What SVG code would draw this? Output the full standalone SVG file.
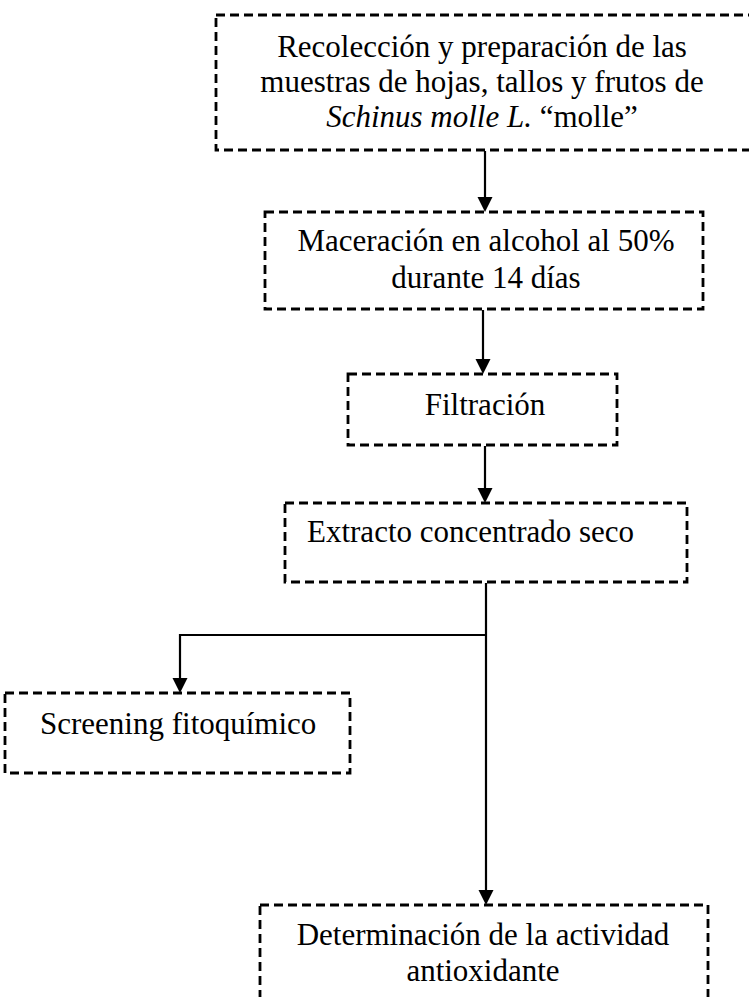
<svg xmlns="http://www.w3.org/2000/svg" width="749" height="997" viewBox="0 0 749 997">
<style>
.box{fill:none;stroke:#000;stroke-width:2.8;stroke-dasharray:9 5}
.lbl{font-family:"Liberation Serif","Times New Roman",serif;font-size:31px;fill:#000}
.c{text-anchor:middle}
.conn{fill:none;stroke:#000;stroke-width:2.2}
.head{fill:#000}
</style>
<rect width="749" height="997" fill="#fff"/>
<g id="n1">
<rect class="box" x="216" y="15" width="536" height="135"/>
<text class="lbl c" x="482" y="57">Recolección y preparación de las</text>
<text class="lbl c" x="482" y="92">muestras de hojas, tallos y frutos de</text>
<text class="lbl c" x="482" y="127"><tspan font-style="italic">Schinus molle L.</tspan> “molle”</text>
</g>
<g id="n2">
<rect class="box" x="265" y="212" width="438" height="97"/>
<text class="lbl c" x="486" y="251">Maceración en alcohol al 50%</text>
<text class="lbl c" x="486" y="288">durante 14 días</text>
</g>
<g id="n3">
<rect class="box" x="348" y="374" width="269" height="71"/>
<text class="lbl c" x="485" y="415">Filtración</text>
</g>
<g id="n4">
<rect class="box" x="285" y="503" width="402" height="79"/>
<text class="lbl" x="307" y="542">Extracto concentrado seco</text>
</g>
<g id="n5">
<rect class="box" x="5" y="693" width="345" height="80"/>
<text class="lbl" x="40" y="734">Screening fitoquímico</text>
</g>
<g id="n6">
<rect class="box" x="260" y="905" width="448" height="110"/>
<text class="lbl c" x="483" y="945">Determinación de la actividad</text>
<text class="lbl c" x="483" y="981">antioxidante</text>
</g>
<g id="connectors">
<path d="M485,151 V198" class="conn"/>
<path class="head" d="M477.5,197 H492.5 L485,212 Z"/>
<path d="M483,310 V360" class="conn"/>
<path class="head" d="M475.5,359 H490.5 L483,374 Z"/>
<path d="M485,446 V489" class="conn"/>
<path class="head" d="M477.5,488 H492.5 L485,503 Z"/>
<path d="M486,583 V891" class="conn"/>
<path class="head" d="M478.5,890 H493.5 L486,905 Z"/>
<path d="M486,635 H180 V679" class="conn"/>
<path class="head" d="M172.5,678 H187.5 L180,693 Z"/>
</g>
</svg>
